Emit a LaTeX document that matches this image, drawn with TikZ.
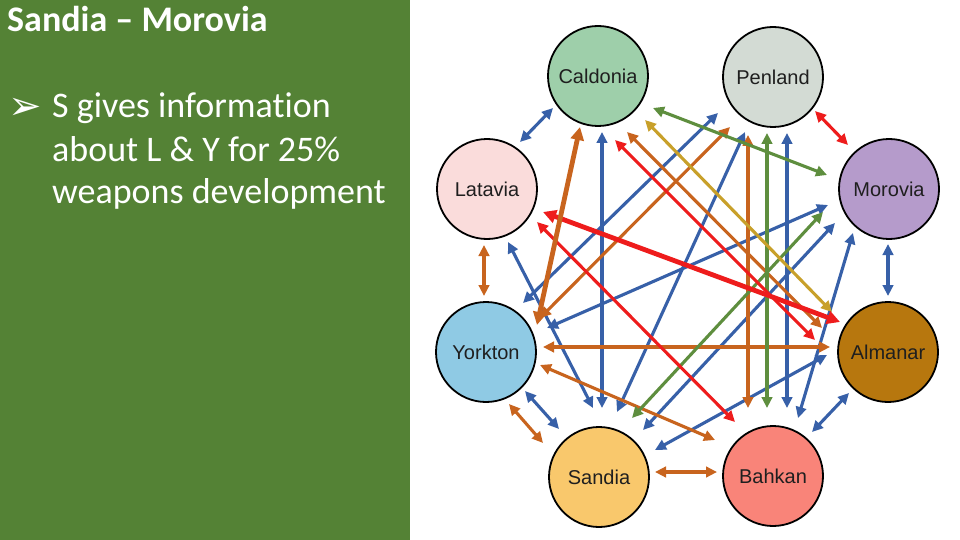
\documentclass[tikz,border=0pt]{standalone}
\usepackage{fontspec}
\setmainfont{Carlito}[Ligatures=NoCommon]
\newfontfamily\arialf{Liberation Sans}
\newfontfamily\dejavu{DejaVu Sans}
\usetikzlibrary{arrows.meta,calc}
\definecolor{panel}{HTML}{548235}
\definecolor{cb}{HTML}{3760A8}
\definecolor{co}{HTML}{C8641E}
\definecolor{cg}{HTML}{5E8E3E}
\definecolor{cy}{HTML}{C8A02A}
\definecolor{cr}{HTML}{EE1C1C}
\definecolor{fC}{HTML}{9ECFAA}
\definecolor{fP}{HTML}{D3DBD4}
\definecolor{fL}{HTML}{FADCDB}
\definecolor{fM}{HTML}{B59BCB}
\definecolor{fY}{HTML}{8FCAE4}
\definecolor{fA}{HTML}{B7770E}
\definecolor{fS}{HTML}{F9C86C}
\definecolor{fB}{HTML}{F98479}
\begin{document}
\begin{tikzpicture}[x=1pt,y=-1pt,
  country/.style={circle,draw=black,line width=1.8pt,minimum size=100pt,inner sep=0pt,
    font=\arialf\fontsize{20}{24}\selectfont,text=black!88},
  link/.style={line width=3.1pt,{Triangle[length=11pt,width=10.5pt]}-{Triangle[length=11pt,width=10.5pt]}},
  boldlink/.style={line width=4.8pt,{Triangle[length=13pt,width=13pt]}-{Triangle[length=13pt,width=13pt]}},
  slidetext/.style={anchor=base west,inner sep=0pt,text=white,font=\fontsize{36}{43}\selectfont}
]
\useasboundingbox (0,0) rectangle (960,540);
\fill[white] (0,0) rectangle (960,540);
\fill[panel] (0,0) rectangle (410,540);

\node[slidetext,font=\bfseries\fontsize{36}{43}\selectfont] (title) at (7,32) {Sandia – Morovia};
\node[slidetext,font=\dejavu\fontsize{40}{44}\selectfont] (bul) at (8,120) {➢};
\node[slidetext] (t1) at (52,118) {S gives information};
\node[slidetext] (t2) at (52,161) {about L \& Y for 25\%};
\node[slidetext] (t3) at (52,204) {weapons development};

\node[country,fill=fC] (C) at (598,76) {Caldonia};
\node[country,fill=fP] (P) at (773,77) {Penland};
\node[country,fill=fL] (L) at (487,189) {Latavia};
\node[country,fill=fM] (M) at (889,189) {Morovia};
\node[country,fill=fY] (Y) at (486,352) {Yorkton};
\node[country,fill=fA] (A) at (888,352) {Almanar};
\node[country,fill=fS] (S) at (599,477) {Sandia};
\node[country,fill=fB] (B) at (773,476) {Bahkan};

% neighbours
\draw[link,cb] ($(C)+(-45,32)$) -- ($(L)+(33,-47)$);
\draw[link,cr] ($(P)+(42,34)$) -- ($(M)+(-41,-44)$);
\draw[link,co] ($(L)+(-3,56)$) -- ($(Y)+(-2,-56)$);
\draw[link,cb] ($(M)+(-1,55)$) -- ($(A)+(0,-56)$);
\draw[link,cb] ($(Y)+(39,39)$) -- ($(S)+(-40,-48)$);
\draw[link,co] ($(Y)+(23,52)$) -- ($(S)+(-56,-34)$);
\draw[link,co] ($(S)+(56,-5)$) -- ($(B)+(-56,-4)$);
\draw[link,cb] ($(B)+(39,-44)$) -- ($(A)+(-39,41)$);

% blue crossings
\draw[link,cb] ($(C)+(4,56)$) -- ($(S)+(3,-69)$);
\draw[link,cb] ($(P)+(-55,36)$) -- ($(Y)+(37,-49)$);
\draw[link,cb] ($(P)+(-28,55)$) -- ($(S)+(18,-65)$);
\draw[link,cb] ($(P)+(14,56)$) -- ($(B)+(14,-68)$);
\draw[link,cb] ($(M)+(-61,16)$) -- ($(Y)+(61,-24)$);
\draw[link,cb] ($(M)+(-54,34)$) -- ($(S)+(44,-47)$);
\draw[link,cb] ($(M)+(-36,44)$) -- ($(B)+(25,-58)$);
\draw[link,cb] ($(L)+(21,53)$) -- ($(S)+(-6,-69)$);
\draw[link,cb] ($(A)+(-61,3)$) -- ($(S)+(56,-27)$);

% orange crossings
\draw[link,co] ($(P)+(-43,50)$) -- ($(Y)+(54,-34)$);
\draw[link,co] ($(P)+(-25,58)$) -- ($(B)+(-25,-68)$);
\draw[link,co] ($(C)+(29,56)$) -- ($(A)+(-66,-24)$);
\draw[link,co] ($(Y)+(57,-5)$) -- ($(A)+(-58,-5)$);
\draw[link,co] ($(Y)+(54,13)$) -- ($(B)+(-58,-36)$);

% green and gold crossings
\draw[link,cg] ($(C)+(55,32)$) -- ($(M)+(-62,-14)$);
\draw[link,cg] ($(P)+(-6,56)$) -- ($(B)+(-6,-68)$);
\draw[link,cg] ($(M)+(-66,23)$) -- ($(S)+(33,-59)$);
\draw[link,cy] ($(C)+(47,44)$) -- ($(A)+(-56,-40)$);

% red crossings
\draw[link,cr] ($(C)+(17,64)$) -- ($(A)+(-73,-12)$);
\draw[link,cr] ($(L)+(50,33)$) -- ($(B)+(-38,-54)$);
\draw[boldlink,cr] ($(L)+(56,23)$) -- ($(A)+(-48,-30)$);

% thick orange
\draw[boldlink,co] ($(C)+(-18,51)$) -- ($(Y)+(51,-27)$);
\end{tikzpicture}
\end{document}
